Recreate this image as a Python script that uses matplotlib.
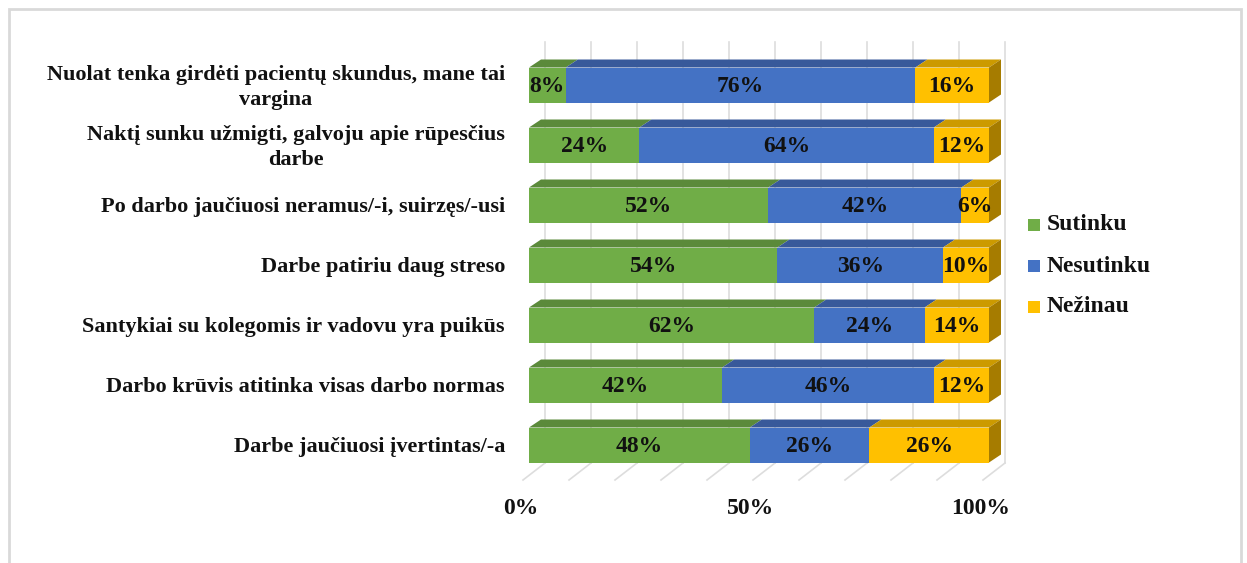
import numpy as np
import matplotlib.pyplot as plt
from matplotlib.patches import Polygon, Rectangle

categories = [
    "Nuolat tenka girdėti pacientų skundus, mane tai\nvargina",
    "Naktį sunku užmigti, galvoju apie rūpesčius\ndarbe",
    "Po darbo jaučiuosi neramus/-i, suirzęs/-usi",
    "Darbe patiriu daug streso",
    "Santykiai su kolegomis ir vadovu yra puikūs",
    "Darbo krūvis atitinka visas darbo normas",
    "Darbe jaučiuosi įvertintas/-a",
]
sutinku = [8, 24, 52, 54, 62, 42, 48]
nesutinku = [76, 64, 42, 36, 24, 46, 26]
nezinau = [16, 12, 6, 10, 14, 12, 26]
series_names = ["Sutinku", "Nesutinku", "Nežinau"]
tick_values = [0, 50, 100]

front = ["#70AD47", "#4472C4", "#FFC000"]
top = ["#5B8A3A", "#38599A", "#CC9A00"]
side = ["#4E7A32", "#2F4D86", "#A67C00"]
grid_c = "#DDDDDD"
txt_c = "#111111"

plt.rcParams["font.family"] = ["Liberation Serif", "DejaVu Serif"]
plt.rcParams["font.weight"] = "bold"

W, H = 1247, 563
fig = plt.figure(figsize=(W / 100, H / 100), dpi=100)

# axes placed in pixels: x 500..1020, y 30..530
px0, px1, py0, py1 = 500, 1020, 30, 530
ax = fig.add_axes([px0 / W, 1 - py1 / H, (px1 - px0) / W, (py1 - py0) / H])
sx = 4.6          # pixels per percent
x0 = 529          # pixel of 0%
yc0, step = 85, 60
ax.set_xlim((px0 - x0) / sx, (px1 - x0) / sx)
ax.set_ylim((py1 - yc0) / step, (py0 - yc0) / step)
ax.axis("off")

bh = 35 / step      # front face height
dx = 12 / sx        # depth offset x
dy = 8 / step       # depth offset y

# back wall and floor gridlines
bdx = 16 / sx
wall_top = (42 - yc0) / step
floor_back = (463 - yc0) / step
floor_front = (480 - yc0) / step
for v in range(0, 101, 10):
    ax.plot([v + bdx, v + bdx], [wall_top, floor_back], color=grid_c, lw=1.2, zorder=0)
    ax.plot([v + bdx, v - 1.3], [floor_back, floor_front], color=grid_c, lw=1.2, zorder=0)

ys = np.arange(len(categories))
data = [sutinku, nesutinku, nezinau]
left = np.zeros(len(categories))
for k, vals in enumerate(data):
    vals = np.array(vals, dtype=float)
    ax.barh(ys, vals, left=left, height=bh, color=front[k], zorder=3)
    for i, (l, w) in enumerate(zip(left, vals)):
        yt = ys[i] - bh / 2
        ax.add_patch(Polygon([(l, yt), (l + w, yt), (l + w + dx, yt - dy), (l + dx, yt - dy)],
                             closed=True, facecolor=top[k], edgecolor="none", zorder=2))
        ax.text(l + w / 2, ys[i] + 0.03, f"{int(w)}%", ha="center", va="center",
                fontsize=17, fontweight="bold", color=txt_c, zorder=5)
    left = left + vals

# right side faces of the last segment
for i in ys:
    yt, yb = i - bh / 2, i + bh / 2
    ax.add_patch(Polygon([(100, yt), (100 + dx, yt - dy), (100 + dx, yb - dy), (100, yb)],
                         closed=True, facecolor=side[2], edgecolor="none", zorder=2))

for i, lab in enumerate(categories):
    ax.text((505 - x0) / sx, i + 0.04, lab, ha="right", va="center", fontsize=16,
            fontweight="bold", color=txt_c, multialignment="center",
            linespacing=1.3, clip_on=False)

for v in tick_values:
    ax.text(v - 1.8, (509 - yc0) / step, f"{v}%", ha="center", va="center",
            fontsize=17, fontweight="bold", color=txt_c, clip_on=False)

# legend
for k, name in enumerate(series_names):
    ly = 225 + 41 * k
    fig.patches.append(Rectangle((1028 / W, 1 - (ly + 6) / H), 12 / W, 12 / H,
                                 transform=fig.transFigure, facecolor=front[k], edgecolor="none"))
    fig.text(1047 / W, 1 - ly / H, name, ha="left", va="center", fontsize=17,
             fontweight="bold", color=txt_c)

# chart frame
fig.patches.append(Rectangle((9 / W, -0.05), 1232 / W, 1 - 9 / H + 0.05, transform=fig.transFigure,
                             facecolor="none", edgecolor="#D9D9D9", lw=2))

fig.savefig("out.png", dpi=100)
